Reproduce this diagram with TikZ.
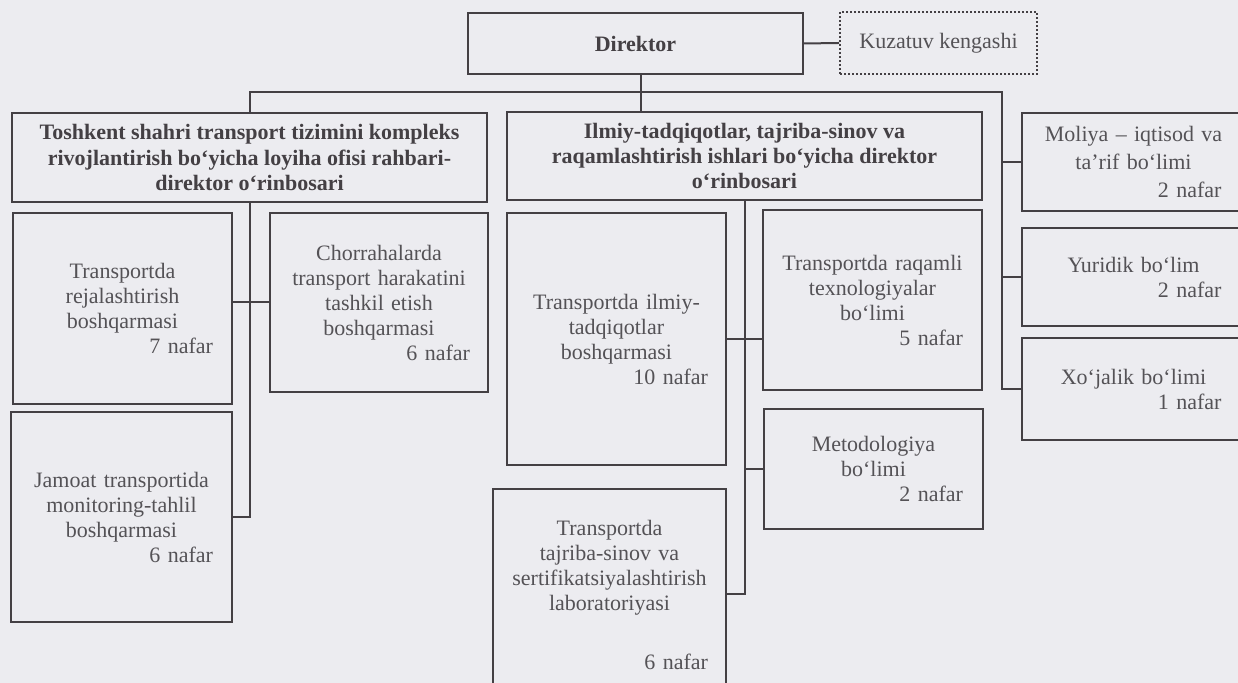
\documentclass[tikz,border=0pt]{standalone}
\usepackage{fontspec}
\setmainfont{Liberation Serif}
\definecolor{paper}{RGB}{236,236,240}
\definecolor{ink}{RGB}{68,64,68}
\definecolor{txt}{RGB}{84,82,86}

\begin{document}
\begin{tikzpicture}[x=1pt,y=-1pt,
  box/.style={draw=ink, line width=1pt, rectangle, font=\fontsize{11}{12.5}\selectfont, text=txt, align=center},
  head/.style={box, font=\fontsize{11}{12.7}\selectfont\bfseries, text=ink},
  link/.style={draw=ink, line width=1pt}]
\clip (0,0) rectangle (619,341.5);
\fill[paper] (0,0) rectangle (619,341.5);
\node [head, minimum width=167.5pt, minimum height=30.5pt] (dir) at (317.75,21.75) {Direktor};
\node [box, densely dotted, minimum width=98.5pt, minimum height=31pt] (kuz) at (469.25,21.5) {Kuzatuv kengashi};
\node [head, minimum width=237.5pt, minimum height=44.5pt] (dep1) at (124.75,78.75)
  {Toshkent shahri transport tizimini kompleks\\rivojlantirish bo‘yicha loyiha ofisi rahbari-\\direktor o‘rinbosari};
\node [head, minimum width=237.5pt, minimum height=44pt] (dep2) at (372.25,78)
  {Ilmiy-tadqiqotlar, tajriba-sinov va\\raqamlashtirish ishlari bo‘yicha direktor\\o‘rinbosari};
\node [box, minimum width=109.5pt, minimum height=95.5pt, text width=90.5pt] (rej) at (61.25,154.25)
  {Transportda\\rejalashtirish\\boshqarmasi\\\hfill 7 nafar};
\node [box, minimum width=109pt, minimum height=89.5pt, text width=91pt] (chor) at (189.5,151.25)
  {Chorrahalarda\\transport harakatini\\tashkil etish\\boshqarmasi\\\hfill 6 nafar};
\node [box, minimum width=110.5pt, minimum height=105pt, text width=91.5pt] (jam) at (60.75,258.5)
  {Jamoat transportida\\monitoring-tahlil\\boshqarmasi\\\hfill 6 nafar};
\node [box, minimum width=109.5pt, minimum height=126pt, text width=91.5pt] (ilm) at (308.25,169.5)
  {Transportda ilmiy-\\tadqiqotlar\\boshqarmasi\\\hfill 10 nafar};
\node [box, minimum width=109.5pt, minimum height=90pt, text width=90.5pt] (raq) at (436.25,150)
  {Transportda raqamli\\texnologiyalar\\bo‘limi\\\hfill 5 nafar};
\node [box, minimum width=109.5pt, minimum height=60pt, text width=89.5pt] (met) at (436.75,234.5)
  {Metodologiya\\bo‘limi\\\hfill 2 nafar};
\node [box, minimum width=116.5pt, minimum height=105.5pt, text width=98.5pt] (taj) at (304.75,297.25)
  {Transportda\\tajriba-sinov va\\sertifikatsiyalashtirish\\laboratoriyasi\\[17pt]\hfill 6 nafar};
\node [box, minimum width=111.5pt, minimum height=49pt, text width=88pt,
  font=\fontsize{11}{14}\selectfont] (mol) at (566.75,81)
  {\hbox to 88pt{\hss Moliya – iqtisod va\hss}\\ta’rif bo‘limi\\\hfill 2 nafar};
\node [box, minimum width=111.5pt, minimum height=49pt, text width=88pt] (yur) at (566.75,138.5)
  {Yuridik bo‘lim\\\hfill 2 nafar};
\node [box, minimum width=111.5pt, minimum height=51pt, text width=88pt] (xoj) at (566.75,194.5)
  {Xo‘jalik bo‘limi\\\hfill 1 nafar};
\coordinate (bus) at (501,46);
\draw[link] (dir.east) -- (kuz.west);
\draw[link] ([xshift=2.5pt]dir.south) -- ([xshift=2.5pt]dir.south |- dep2.north);
\draw[link] (dep1.north) -- (dep1.north |- bus) -- (bus) -- (bus |- xoj.west) -- (xoj.west);
\draw[link] (bus |- mol.west) -- (mol.west);
\draw[link] (bus |- yur.west) -- (yur.west);
\draw[link] (dep1.south) -- (dep1.south |- jam.east) -- (jam.east);
\draw[link] (chor.west) -- (chor.west -| rej.east);
\draw[link] (dep2.south) -- (dep2.south |- taj.east) -- (taj.east);
\draw[link] (ilm.east) -- (ilm.east -| raq.west);
\draw[link] (met.west) -- (met.west -| dep2.south);
\end{tikzpicture}
\end{document}
